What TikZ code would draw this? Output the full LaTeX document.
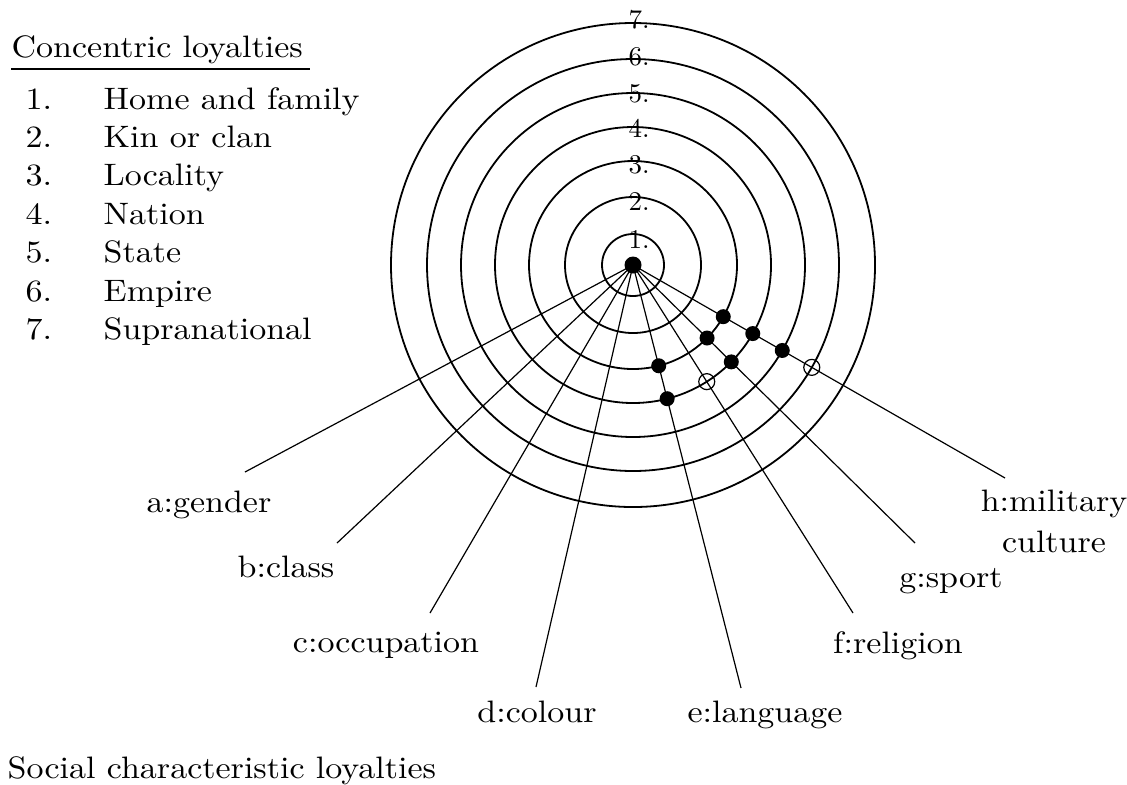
\documentclass[tikz,border=0pt]{standalone}
\usepackage{tikz}
\usetikzlibrary{calc}

\tikzset{
  ring/.style={line width=0.9pt},
  spoke/.style={line width=0.6pt},
  fulldot/.style={circle, fill=black, inner sep=0pt, minimum size=7.5pt},
  hubdot/.style={circle, fill=black, inner sep=0pt, minimum size=8.5pt},
  opendot/.style={circle, draw=black, line width=0.6pt, inner sep=0pt, minimum size=8pt},
  ringlabel/.style={inner sep=0pt, anchor=base, scale=1.35, font=\fontsize{10}{12}\selectfont},
  plaintext/.style={inner sep=0pt, xscale=1.7, yscale=1.55, font=\fontsize{10}{13.2}\selectfont},
}

\begin{document}
\begin{tikzpicture}[x=0.5pt, y=-0.5pt]
\fill[white] (0,0) rectangle (1127,784);
\useasboundingbox (0,0) rectangle (1127,784);

\node[plaintext, anchor=base west] (title) at (11,57) {Concentric loyalties};
\draw[line width=0.7pt] ([yshift=-6pt]title.base west) -- ([yshift=-6pt,xshift=3pt]title.base east);
\foreach \txt [count=\i] in {Home and family, Kin or clan, Locality, Nation, State, Empire, Supranational}{
  \node[plaintext, anchor=base west] (num\i) at (25,{109+38.4*(\i-1)}) {\i.};
  \node[plaintext, anchor=base west] (item\i) at (103,{109+38.4*(\i-1)}) {\txt};
}

\coordinate (hub) at (633,265);
\foreach \r/\b [count=\k] in {31/248, 68/210, 104/173, 138/137, 172/102, 206/65, 242/28}{
  \draw[ring] (hub) circle[radius=\r*0.5pt];
  \node[ringlabel] (ring\k) at (639,\b) {\k.};
}

\coordinate (end-a) at (245,472);
\coordinate (end-b) at (337,543);
\coordinate (end-c) at (430,613);
\coordinate (end-d) at (536,687);
\coordinate (end-e) at (741,688);
\coordinate (end-f) at (853,613);
\coordinate (end-g) at (915,543);
\coordinate (end-h) at (1005,478);
\foreach \s in {a,b,c,d,e,f,g,h}
  \draw[spoke] (hub) -- (end-\s);

\node[plaintext, anchor=base] (lab-a) at (209,512) {a:gender};
\node[plaintext, anchor=base] (lab-b) at (286,577) {b:class};
\node[plaintext, anchor=base] (lab-c) at (386,652) {c:occupation};
\node[plaintext, anchor=base] (lab-d) at (537,722) {d:colour};
\node[plaintext, anchor=base] (lab-e) at (765,722) {e:language};
\node[plaintext, anchor=base] (lab-f) at (898,653) {f:religion};
\node[plaintext, anchor=base] (lab-g) at (951,587) {g:sport};
\node[plaintext, anchor=north, align=center] (lab-h) at (1054,489) {h:military\\culture};
\node[plaintext, anchor=base west] (social) at (7,778) {Social characteristic loyalties};

\node[hubdot] (centre) at (hub) {};
\node[fulldot] (h3) at ($(hub)!52pt!(end-h)$) {};
\node[fulldot] (h4) at ($(hub)!69pt!(end-h)$) {};
\node[fulldot] (h5) at ($(hub)!86pt!(end-h)$) {};
\node[opendot] (h6) at ($(hub)!103pt!(end-h)$) {};
\node[fulldot] (g3) at ($(hub)!52pt!(end-g)$) {};
\node[fulldot] (g4) at ($(hub)!69pt!(end-g)$) {};
\node[opendot] (f4) at ($(hub)!69pt!(end-f)$) {};
\node[fulldot] (e3) at ($(hub)!52pt!(end-e)$) {};
\node[fulldot] (e4) at ($(hub)!69pt!(end-e)$) {};
\end{tikzpicture}
\end{document}
